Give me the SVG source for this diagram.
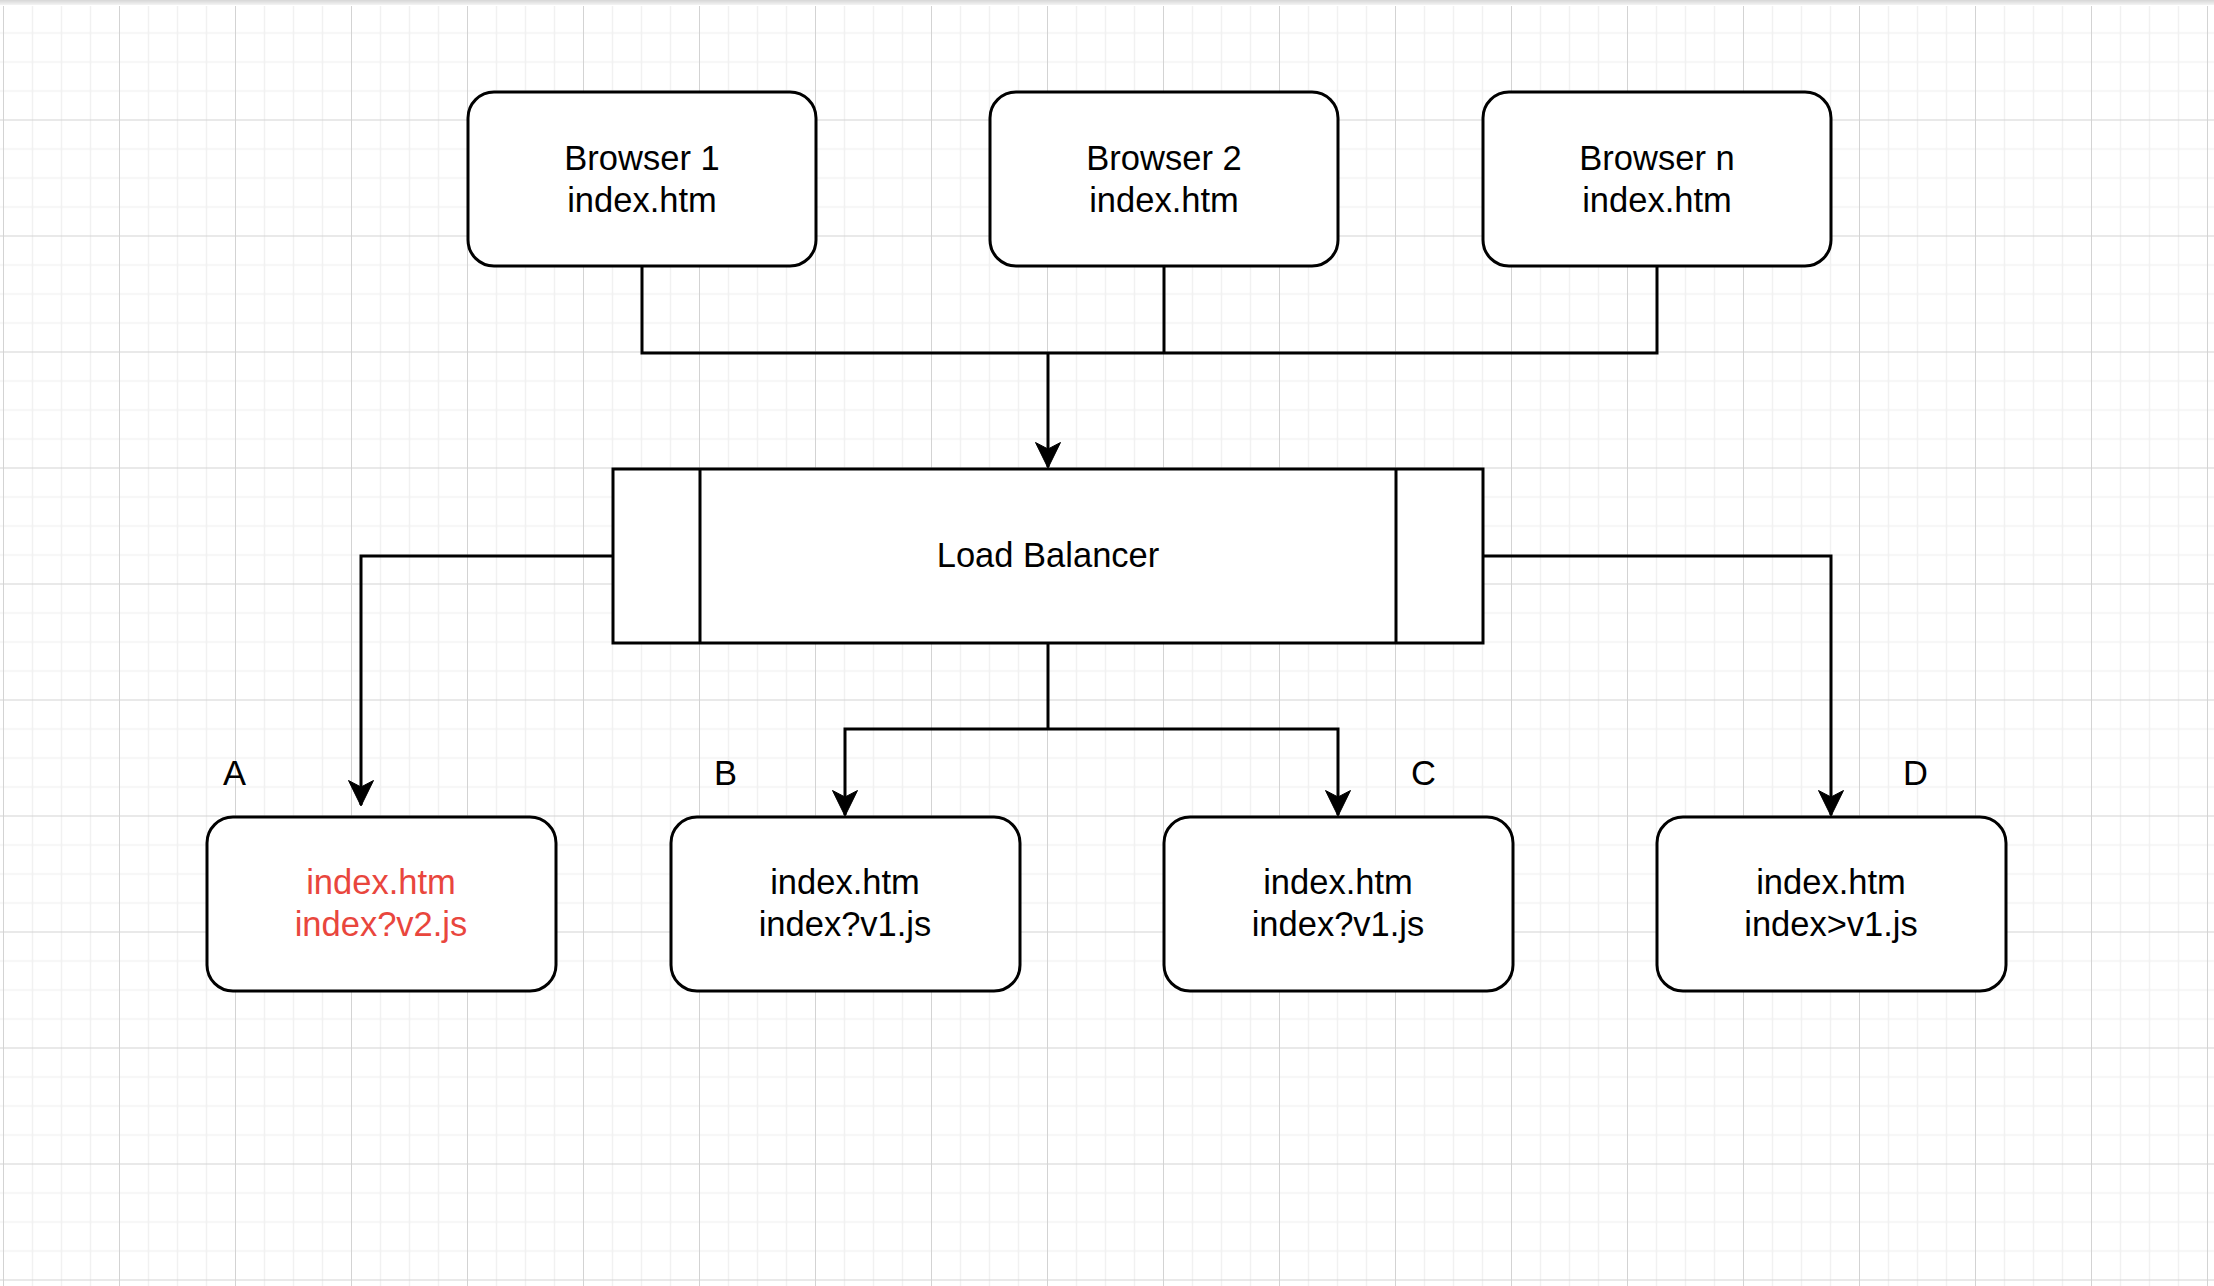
<svg xmlns="http://www.w3.org/2000/svg" width="2214" height="1286" viewBox="0 0 2214 1286">
  <defs>
    <pattern id="grid" x="3" y="3.5" width="116" height="116" patternUnits="userSpaceOnUse">
      <path d="M29.5 0V116M58.5 0V116M87.5 0V116M0 29.5H116M0 58.5H116M0 87.5H116" stroke="#f1f1f1" stroke-width="1.5" fill="none"/>
      <path d="M0.5 0V116M0 0.5H116" stroke="#d3d3d3" stroke-width="1" fill="none"/>
    </pattern>
    <linearGradient id="topband" x1="0" y1="0" x2="0" y2="1">
      <stop offset="0" stop-color="#d6d6d6"/>
      <stop offset="1" stop-color="#f4f4f4"/>
    </linearGradient>
    <marker id="arrow" viewBox="0 0 26 26" refX="25" refY="13" markerWidth="26" markerHeight="26" markerUnits="userSpaceOnUse" orient="auto">
      <path d="M0.5 0.5 L26 13 L0.5 25.5 L7 13 Z" fill="#000" stroke="#000" stroke-width="1" stroke-linejoin="miter"/>
    </marker>
    <style>
      .box { fill: #ffffff; stroke: #000000; stroke-width: 3; }
      .edge { fill: none; stroke: #000000; stroke-width: 3; }
      .lbl { font-family: "Liberation Sans", Arial, Helvetica, sans-serif; font-size: 34.5px; fill: #000000; text-anchor: middle; }
      .tag { font-family: "Liberation Sans", Arial, Helvetica, sans-serif; font-size: 34.5px; fill: #000000; }
      .red { fill: #e9463d; }
    </style>
  </defs>

  <rect x="0" y="0" width="2214" height="1286" fill="#ffffff"/>
  <rect x="0" y="6" width="2214" height="1280" fill="url(#grid)"/>
  <rect x="0" y="0" width="2214" height="5" fill="url(#topband)"/>

  <g id="connectors">
    <path class="edge" d="M642 266V353H1657V266M1164 266V353"/>
    <path class="edge" d="M1048 353V467" marker-end="url(#arrow)"/>
    <path class="edge" d="M613 556H361V805" marker-end="url(#arrow)"/>
    <path class="edge" d="M1483 556H1831V815" marker-end="url(#arrow)"/>
    <path class="edge" d="M1048 643V729"/>
    <path class="edge" d="M1048 729H845V815" marker-end="url(#arrow)"/>
    <path class="edge" d="M1048 729H1338V815" marker-end="url(#arrow)"/>
  </g>

  <g id="browser1">
    <rect class="box" x="468" y="92" width="348" height="174" rx="26" ry="26"/>
    <text class="lbl" x="642" y="170">Browser 1</text>
    <text class="lbl" x="642" y="212">index.htm</text>
  </g>
  <g id="browser2">
    <rect class="box" x="990" y="92" width="348" height="174" rx="26" ry="26"/>
    <text class="lbl" x="1164" y="170">Browser 2</text>
    <text class="lbl" x="1164" y="212">index.htm</text>
  </g>
  <g id="browsern">
    <rect class="box" x="1483" y="92" width="348" height="174" rx="26" ry="26"/>
    <text class="lbl" x="1657" y="170">Browser n</text>
    <text class="lbl" x="1657" y="212">index.htm</text>
  </g>

  <g id="loadbalancer">
    <rect class="box" x="613" y="469" width="870" height="174"/>
    <path class="edge" d="M700 469V643M1396 469V643"/>
    <text class="lbl" x="1048" y="567">Load Balancer</text>
  </g>

  <g id="serverA">
    <rect class="box" x="207" y="817" width="349" height="174" rx="26" ry="26"/>
    <text class="lbl red" x="381" y="894">index.htm</text>
    <text class="lbl red" x="381" y="936">index?v2.js</text>
  </g>
  <g id="serverB">
    <rect class="box" x="671" y="817" width="349" height="174" rx="26" ry="26"/>
    <text class="lbl" x="845" y="894">index.htm</text>
    <text class="lbl" x="845" y="936">index?v1.js</text>
  </g>
  <g id="serverC">
    <rect class="box" x="1164" y="817" width="349" height="174" rx="26" ry="26"/>
    <text class="lbl" x="1338" y="894">index.htm</text>
    <text class="lbl" x="1338" y="936">index?v1.js</text>
  </g>
  <g id="serverD">
    <rect class="box" x="1657" y="817" width="349" height="174" rx="26" ry="26"/>
    <text class="lbl" x="1831" y="894">index.htm</text>
    <text class="lbl" x="1831" y="936">index&gt;v1.js</text>
  </g>

  <g id="labels">
    <text class="tag" x="223" y="785">A</text>
    <text class="tag" x="714" y="785">B</text>
    <text class="tag" x="1411" y="785">C</text>
    <text class="tag" x="1903" y="785">D</text>
  </g>
</svg>
